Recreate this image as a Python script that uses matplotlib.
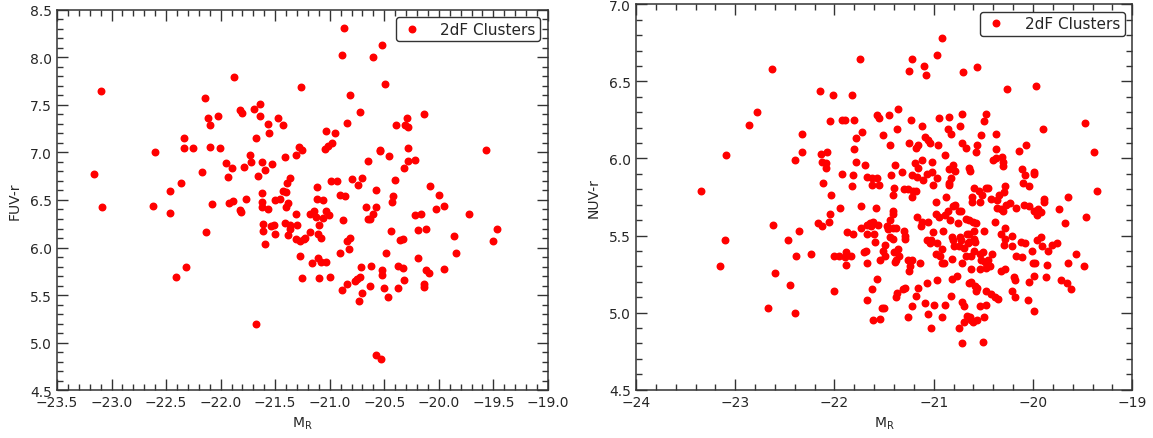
import matplotlib
matplotlib.use("Agg")
import matplotlib.pyplot as plt
from matplotlib.ticker import MultipleLocator
import numpy as np

plt.rcParams['font.family'] = ['DejaVu Sans']
plt.rcParams['mathtext.default'] = 'regular'

# ---------------- Left panel: FUV-r vs M_R ----------------
fuv_mr = [
    -23.10, -21.88, -21.26, -22.14, -21.82, -21.80, -21.69, -21.64, -21.64, -22.12,
    -22.10, -22.02, -21.47, -21.43, -21.57, -21.56, -21.68, -22.34, -22.34, -22.25,
    -22.10, -22.01, -22.60, -21.28, -21.25, -21.31, -21.41, -21.73, -21.72, -21.62,
    -21.53, -21.95, -21.90, -21.79, -21.59, -21.66, -21.93, -22.17, -23.16, -22.36,
    -22.46, -21.36, -21.39, -21.43, -21.40, -21.62,
    -20.87, -20.52, -20.89, -20.60, -20.49, -20.81, -20.72, -20.14, -20.84, -20.29,
    -20.39, -20.31, -20.28, -21.03, -20.95, -21.04, -21.02, -20.98, -20.54, -20.54,
    -20.46, -20.28, -20.28, -20.22, -20.65, -20.32, -19.57, -20.99, -20.93, -20.80,
    -20.70, -20.74, -21.12, -20.58, -20.40, -20.08, -20.00, -20.91, -20.86, -20.42,
    -23.09, -22.62, -22.46, -22.13, -22.08, -22.32, -22.41, -21.92, -21.89, -21.77,
    -21.82, -21.81, -21.62, -21.62, -21.57, -21.61, -21.61, -21.59, -21.54, -21.51,
    -21.50, -21.50, -21.46, -21.38, -21.40, -21.41, -21.36, -21.36, -21.30, -21.31,
    -21.38, -21.31, -21.27, -21.24, -21.27, -21.25, -21.68,
    -21.12, -21.06, -21.14, -21.18, -21.13, -21.06, -21.03, -21.01, -21.10, -21.18,
    -21.23, -21.11, -21.08, -21.16, -21.11, -21.08, -21.03, -21.10, -21.00, -20.88,
    -20.91, -20.84, -20.81, -20.82, -20.67, -20.58, -20.65, -20.63, -20.60, -20.43,
    -20.44, -20.48, -20.36, -20.33, -20.71, -20.62, -20.52, -20.52, -20.37, -20.33,
    -20.32, -20.84, -20.77, -20.75, -20.72, -20.89, -20.70, -20.73, -20.63, -20.50,
    -20.47, -20.37, -20.19, -20.22, -20.16, -20.19, -20.12, -20.03, -19.95, -20.12,
    -20.09, -20.14, -20.14, -19.95, -19.86, -19.84, -19.72, -19.47, -19.50, -20.58,
    -20.53,
]
fuv_r = [
    7.64, 7.79, 7.69, 7.57, 7.45, 7.41, 7.46, 7.51, 7.38, 7.36,
    7.29, 7.38, 7.36, 7.29, 7.30, 7.20, 7.15, 7.15, 7.05, 7.05,
    7.06, 7.05, 7.00, 7.06, 7.02, 6.97, 6.95, 6.97, 6.90, 6.90,
    6.88, 6.89, 6.84, 6.85, 6.81, 6.75, 6.74, 6.79, 6.77, 6.68,
    6.59, 6.73, 6.68, 6.59, 6.58, 6.57,
    8.31, 8.13, 8.02, 8.00, 7.72, 7.60, 7.42, 7.40, 7.31, 7.36,
    7.29, 7.29, 7.27, 7.22, 7.20, 7.04, 7.07, 7.10, 7.03, 7.01,
    6.96, 7.05, 6.91, 6.92, 6.91, 6.84, 7.03, 6.70, 6.70, 6.72,
    6.73, 6.66, 6.64, 6.61, 6.71, 6.65, 6.55, 6.55, 6.54, 6.54,
    6.43, 6.44, 6.36, 6.16, 6.46, 5.80, 5.69, 6.47, 6.49, 6.51,
    6.39, 6.37, 6.48, 6.43, 6.41, 6.25, 6.17, 6.04, 6.23, 6.24,
    6.14, 6.50, 6.51, 6.47, 6.43, 6.26, 6.24, 6.20, 6.24, 6.35,
    6.13, 6.09, 6.07, 6.09, 5.91, 5.68, 5.20,
    6.51, 6.50, 6.38, 6.35, 6.32, 6.31, 6.38, 6.34, 6.24, 6.16,
    6.10, 6.14, 6.10, 5.84, 5.89, 5.85, 5.85, 5.68, 5.69, 6.29,
    5.94, 6.07, 6.10, 5.98, 6.43, 6.43, 6.30, 6.30, 6.35, 6.48,
    6.17, 5.94, 6.08, 6.09, 5.80, 5.81, 5.76, 5.71, 5.81, 5.79,
    5.66, 5.62, 5.65, 5.67, 5.69, 5.55, 5.52, 5.44, 5.60, 5.58,
    5.48, 5.58, 5.89, 6.34, 6.35, 6.18, 6.19, 6.41, 6.44, 5.76,
    5.73, 5.62, 5.59, 5.77, 6.12, 5.94, 6.35, 6.20, 6.07, 4.87,
    4.83,
]

# ---------------- Right panel: NUV-r vs M_R ----------------
nuv_mr = [
    # upper-left region
    -21.74, -22.63, -22.15, -22.02, -21.82, -22.78, -22.86, -22.05, -21.92, -21.89,
    -21.80, -21.57, -21.55, -22.33, -21.72, -21.78, -21.51, -23.09, -22.33, -22.40,
    -22.14, -22.13, -22.09, -22.09, -22.08, -21.80, -21.78, -21.69, -21.92, -21.81,
    -21.67, -21.62, -21.57, -21.55, -21.62, -22.12, -21.82, -23.34, -22.04,
    # lower-left region
    -21.94, -21.73, -21.58, -22.05, -22.06, -22.17, -22.13, -22.62, -22.36, -22.47,
    -23.10, -23.15, -22.39, -22.24, -22.01, -21.95, -21.88, -21.89, -21.88, -21.83,
    -21.87, -21.81, -21.73, -21.67, -21.64, -21.61, -21.63, -21.56, -21.67, -21.60,
    -21.59, -21.70, -21.68, -21.67, -21.54, -21.51, -21.49, -21.49, -22.60, -22.45,
    -21.57, -21.62, -22.01, -21.67, -22.67, -22.40, -21.52, -21.50, -21.61, -21.54,
    # upper-right region
    -20.92, -21.22, -21.25, -21.10, -21.08, -20.97, -20.71, -20.56, -20.26, -19.97,
    -21.36, -21.45, -21.37, -21.23, -20.95, -20.85, -20.72, -20.47, -20.49, -21.12,
    -20.86, -20.83, -20.74, -20.52, -20.37, -19.90, -19.48, -21.09, -21.06, -21.04,
    -21.44, -21.25, -21.18, -21.16, -20.96, -20.72, -20.67, -20.56, -20.57, -20.37,
    -20.07, -20.14, -19.39, -20.89, -20.31, -20.40, -20.37, -20.30, -20.30, -21.39,
    -21.19, -21.12, -21.02, -20.81, -21.16, -20.64, -20.63, -20.85, -20.79, -21.43,
    -21.32, -21.22, -21.17, -21.11, -21.07, -21.02, -20.97, -20.83, -20.85, -20.85,
    -20.11, -19.99, -19.99, -20.08, -20.10, -20.04, -21.40, -21.30, -21.26, -21.21,
    -21.18, -21.01, -20.59, -20.47, -20.45, -20.54, -20.51, -20.28, -20.29, -19.36,
    -21.41, -20.88, -21.22, -20.42, -20.34, -19.65, -19.89,
    # lower-right region
    -20.36, -20.53, -20.98, -20.79, -20.81, -20.61, -20.61, -20.27, -20.23, -20.09,
    -20.04, -19.89, -19.74, -19.47, -19.68, -19.99, -19.95, -19.92, -19.96, -20.17,
    -20.36, -20.32, -20.30, -20.38, -20.28, -20.49, -20.75, -20.73, -20.95, -20.98,
    -20.89, -20.86, -20.84, -20.76, -20.67, -20.64, -20.60, -20.57, -20.59, -20.64,
    -20.66, -21.17, -21.12, -21.06, -21.13, -21.01, -20.91, -20.82, -20.81, -20.74,
    -20.73, -20.64, -20.59, -20.58, -21.07, -21.03, -21.04, -20.97, -20.92, -20.98,
    -20.94, -20.90, -20.92, -20.80, -20.75, -20.70, -20.65, -20.59, -20.68, -20.62,
    -20.82, -20.72, -20.53, -20.50, -20.41, -20.52, -20.45, -20.43, -20.53, -20.47,
    -20.48, -20.32, -20.28, -20.21, -20.29, -20.21, -20.12, -20.08, -19.96, -19.92,
    -20.01, -19.91, -19.85, -19.81, -19.76, -20.17, -20.11, -20.00, -19.98, -19.86,
    -19.65, -19.57, -19.49, -20.32, -20.28, -20.19, -20.18, -20.21, -20.18, -19.99,
    -20.04, -19.87, -19.72, -19.66, -19.62, -20.05, -19.99, -20.62, -20.64, -20.62,
    -20.58, -20.56, -20.57, -20.47, -20.42, -20.38, -20.35, -20.77, -20.82, -20.97,
    -21.07, -21.16, -21.18, -21.29, -21.31, -21.37, -21.38, -20.83, -20.89, -21.00,
    -21.09, -21.22, -21.26, -21.06, -20.92, -21.03, -20.72, -20.70, -20.53, -20.47,
    -20.66, -20.70, -20.63, -20.60, -20.56, -20.62, -20.49, -20.75, -20.72, -20.50,
    -21.41, -21.41, -21.44, -21.47, -21.46, -21.41, -21.38, -21.44, -21.41, -21.36,
    -21.40, -21.35, -21.38, -21.39, -21.30, -21.29, -21.29, -21.26, -21.22, -21.24,
    -21.25, -21.14,
]
nuv_r = [
    6.645, 6.58, 6.44, 6.41, 6.41, 6.30, 6.22, 6.24, 6.25, 6.25,
    6.25, 6.28, 6.26, 6.16, 6.17, 6.13, 6.15, 6.02, 6.04, 5.99,
    6.03, 5.98, 5.97, 5.94, 6.04, 6.06, 5.98, 5.96, 5.90, 5.89,
    5.88, 5.87, 5.87, 5.83, 5.83, 5.84, 5.82, 5.79, 5.76,
    5.68, 5.69, 5.68, 5.64, 5.59, 5.58, 5.56, 5.57, 5.53, 5.47,
    5.47, 5.30, 5.37, 5.38, 5.37, 5.37, 5.39, 5.36, 5.31, 5.37,
    5.52, 5.51, 5.55, 5.57, 5.58, 5.59, 5.56, 5.57, 5.51, 5.51,
    5.46, 5.39, 5.40, 5.32, 5.34, 5.40, 5.44, 5.37, 5.26, 5.18,
    5.22, 5.15, 5.14, 5.08, 5.03, 5.00, 5.03, 5.03, 4.95, 4.96,
    6.78, 6.645, 6.57, 6.60, 6.54, 6.67, 6.56, 6.59, 6.45, 6.47,
    6.32, 6.28, 6.19, 6.25, 6.26, 6.27, 6.29, 6.29, 6.24, 6.21,
    6.19, 6.16, 6.21, 6.15, 6.16, 6.19, 6.23, 6.14, 6.12, 6.10,
    6.09, 6.10, 6.07, 6.09, 6.09, 6.10, 6.07, 6.09, 6.04, 6.06,
    6.09, 6.05, 6.04, 6.02, 6.01, 5.99, 6.00, 5.98, 5.95, 5.96,
    5.97, 5.99, 5.98, 5.96, 5.94, 5.94, 5.92, 5.93, 5.92, 5.89,
    5.91, 5.89, 5.88, 5.86, 5.90, 5.91, 5.87, 5.87, 5.84, 5.83,
    5.93, 5.91, 5.90, 5.89, 5.84, 5.82, 5.81, 5.80, 5.80, 5.79,
    5.79, 5.83, 5.81, 5.81, 5.81, 5.79, 5.76, 5.82, 5.78, 5.79,
    5.76, 5.75, 5.75, 5.74, 5.76, 5.75, 5.74,
    5.73, 5.72, 5.72, 5.70, 5.69, 5.75, 5.72, 5.70, 5.71, 5.70,
    5.69, 5.72, 5.67, 5.62, 5.58, 5.66, 5.67, 5.65, 5.63, 5.68,
    5.68, 5.67, 5.66, 5.59, 5.55, 5.53, 5.66, 5.66, 5.62, 5.64,
    5.63, 5.66, 5.60, 5.58, 5.61, 5.60, 5.59, 5.58, 5.53, 5.51,
    5.51, 5.62, 5.59, 5.59, 5.56, 5.52, 5.53, 5.49, 5.47, 5.49,
    5.47, 5.46, 5.48, 5.46, 5.47, 5.47, 5.45, 5.45, 5.41, 5.38,
    5.37, 5.32, 5.32, 5.43, 5.43, 5.42, 5.45, 5.40, 5.37, 5.37,
    5.35, 5.32, 5.38, 5.39, 5.38, 5.34, 5.34, 5.30, 5.28, 5.29,
    5.33, 5.51, 5.48, 5.50, 5.44, 5.43, 5.46, 5.45, 5.47, 5.49,
    5.40, 5.43, 5.40, 5.44, 5.45, 5.37, 5.36, 5.32, 5.32, 5.31,
    5.32, 5.38, 5.30, 5.27, 5.28, 5.23, 5.21, 5.14, 5.10, 5.24,
    5.20, 5.23, 5.21, 5.19, 5.15, 5.08, 5.01, 5.28, 5.19, 5.20,
    5.17, 5.16, 5.14, 5.14, 5.12, 5.10, 5.09, 5.24, 5.22, 5.21,
    5.19, 5.16, 5.11, 5.16, 5.15, 5.13, 5.10, 5.11, 5.05, 5.05,
    5.06, 5.04, 4.97, 4.99, 4.97, 4.90, 5.07, 5.04, 5.04, 5.05,
    4.98, 4.94, 4.97, 4.94, 4.95, 4.95, 4.97, 4.90, 4.80, 4.81,
    5.66, 5.64, 5.60, 5.56, 5.54, 5.55, 5.55, 5.49, 5.48, 5.41,
    5.39, 5.37, 5.34, 5.33, 5.53, 5.50, 5.48, 5.34, 5.34, 5.30,
    5.27, 5.32,
]

legend_label = "2dF Clusters"
text_color = '#262626'

fig = plt.figure(figsize=(11.53, 4.39), dpi=100)
axL = fig.add_axes([0.0494, 0.1087, 0.4258, 0.867])
axR = fig.add_axes([0.5516, 0.110, 0.4304, 0.878])

def style(ax, xmaj, xmin, ymaj, ymin):
    ax.xaxis.set_major_locator(MultipleLocator(xmaj))
    ax.xaxis.set_minor_locator(MultipleLocator(xmin))
    ax.yaxis.set_major_locator(MultipleLocator(ymaj))
    ax.yaxis.set_minor_locator(MultipleLocator(ymin))
    ax.tick_params(which='both', direction='in', top=True, right=True,
                   colors='#333333', labelcolor=text_color, labelsize=10)
    ax.tick_params(which='major', length=8, width=1)
    ax.tick_params(which='minor', length=4, width=1)
    for s in ax.spines.values():
        s.set_color('#333333')
        s.set_linewidth(1.1)

axL.plot(fuv_mr, fuv_r, 'o', color='red', ms=4.7, mec='red', label=legend_label)
axL.set_xlim(-23.5, -19.0)
axL.set_ylim(4.5, 8.5)
style(axL, 0.5, 0.1, 0.5, 0.1)
axL.set_xlabel('M$_{R}$', fontsize=10, color=text_color, labelpad=4)
axL.set_ylabel('FUV-r', fontsize=10, color=text_color, labelpad=6)
axL.xaxis.set_major_formatter(matplotlib.ticker.FuncFormatter(lambda v, p: f"{v:.1f}".replace('-', '\u2212')))
axL.yaxis.set_major_formatter(matplotlib.ticker.FuncFormatter(lambda v, p: f"{v:.1f}"))

axR.plot(nuv_mr, nuv_r, 'o', color='red', ms=4.7, mec='red', label=legend_label)
axR.set_xlim(-24, -19)
axR.set_ylim(4.5, 7.0)
style(axR, 1, 0.2, 0.5, 0.1)
axR.set_xlabel('M$_{R}$', fontsize=10, color=text_color, labelpad=4)
axR.set_ylabel('NUV-r', fontsize=10, color=text_color, labelpad=6)
axR.yaxis.set_major_formatter(matplotlib.ticker.FuncFormatter(lambda v, p: f"{v:.1f}"))

for ax in (axL, axR):
    leg = ax.legend(loc='upper right', numpoints=1, fontsize=11, fancybox=True,
                    framealpha=1, edgecolor='#333333', handlelength=1.5,
                    handletextpad=1.1, borderpad=0.3, borderaxespad=0.5)
    leg.get_frame().set_linewidth(1.0)
    for t in leg.get_texts():
        t.set_color(text_color)

fig.savefig('out.png', dpi=100)
